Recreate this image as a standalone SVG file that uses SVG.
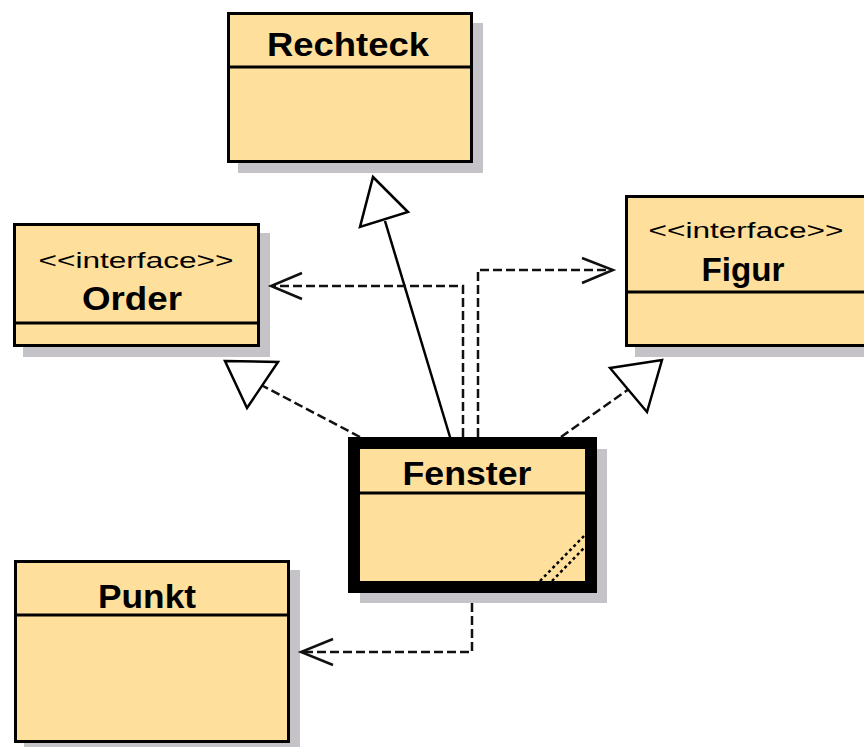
<svg xmlns="http://www.w3.org/2000/svg" width="864" height="747" viewBox="0 0 864 747">
  <style>
    .shadow { fill: #c5c3c8; }
    .box { fill: #fedf9c; stroke: #000; stroke-width: 3; }
    .divider { stroke: #000; stroke-width: 3; }
    .name { font-family: "Liberation Sans", Arial, sans-serif; font-weight: bold; font-size: 34px; fill: #000; text-anchor: middle; }
    .stereo { font-family: "Liberation Sans", Arial, sans-serif; font-size: 22px; fill: #000; text-anchor: middle; }
    .solid { fill: none; stroke: #000; stroke-width: 2.5; }
    .dashed { fill: none; stroke: #111; stroke-width: 2.5; stroke-dasharray: 9 4; }
    .head { fill: #fff; stroke: #000; stroke-width: 2.5; stroke-linejoin: miter; }
    .open { fill: none; stroke: #111; stroke-width: 2.5; }
    .hatch { fill: none; stroke: #000; stroke-width: 2.5; stroke-dasharray: 3 3; }
  </style>

  <rect width="864" height="747" fill="#fff"/>

  <!-- Rechteck -->
  <g id="rechteck">
    <rect class="shadow" x="238" y="23" width="245" height="150"/>
    <rect class="box" x="228.5" y="13.5" width="243" height="148"/>
    <line class="divider" x1="228" y1="67" x2="472" y2="67"/>
    <text class="name" x="348" y="56" textLength="162" lengthAdjust="spacingAndGlyphs">Rechteck</text>
  </g>

  <!-- Order -->
  <g id="order">
    <rect class="shadow" x="23" y="233" width="247" height="124"/>
    <rect class="box" x="14.5" y="224.5" width="244" height="121"/>
    <line class="divider" x1="14" y1="323" x2="259" y2="323"/>
    <text class="stereo" x="136" y="268" textLength="195" lengthAdjust="spacingAndGlyphs">&lt;&lt;interface&gt;&gt;</text>
    <text class="name" x="132" y="310" textLength="100" lengthAdjust="spacingAndGlyphs">Order</text>
  </g>

  <!-- Figur -->
  <g id="figur">
    <rect class="shadow" x="635" y="205" width="250" height="152"/>
    <rect class="box" x="626.5" y="196.5" width="250" height="149"/>
    <line class="divider" x1="626" y1="292" x2="878" y2="292"/>
    <text class="stereo" x="746" y="238" textLength="195" lengthAdjust="spacingAndGlyphs">&lt;&lt;interface&gt;&gt;</text>
    <text class="name" x="743" y="281" textLength="83" lengthAdjust="spacingAndGlyphs">Figur</text>
  </g>

  <!-- Fenster (active class, heavy border) -->
  <g id="fenster">
    <rect class="shadow" x="360" y="449" width="247" height="154"/>
    <rect x="354" y="443" width="237" height="144" fill="#fedf9c" stroke="#000" stroke-width="12"/>
    <line class="divider" x1="360" y1="493" x2="585" y2="493"/>
    <text class="name" x="467" y="485" textLength="129" lengthAdjust="spacingAndGlyphs">Fenster</text>
    <line class="hatch" x1="540" y1="581" x2="584" y2="536"/>
    <line class="hatch" x1="552" y1="581" x2="584" y2="548"/>
  </g>

  <!-- Punkt -->
  <g id="punkt">
    <rect class="shadow" x="24" y="570" width="276" height="183"/>
    <rect class="box" x="15.5" y="561.5" width="273" height="180"/>
    <line class="divider" x1="15" y1="615" x2="289" y2="615"/>
    <text class="name" x="147" y="608" textLength="98" lengthAdjust="spacingAndGlyphs">Punkt</text>
  </g>

  <!-- Connectors -->
  <g id="connectors">
    <!-- Fenster extends Rechteck -->
    <line class="solid" x1="450" y1="437" x2="385" y2="221"/>
    <polygon class="head" points="373,177 408,212 360,227"/>

    <!-- Fenster implements Order -->
    <line class="dashed" x1="360" y1="437" x2="263" y2="386"/>
    <polygon class="head" points="225,361 278,362 247,408"/>

    <!-- Fenster implements Figur -->
    <line class="dashed" x1="561" y1="437" x2="629" y2="389"/>
    <polygon class="head" points="610,368 662,360 647,412"/>

    <!-- Fenster uses Order -->
    <polyline class="dashed" points="463,437 463,286 272,286"/>
    <polyline class="open" points="302,273 271,286 302,299"/>

    <!-- Fenster uses Figur -->
    <polyline class="dashed" points="478,437 478,270 612,270"/>
    <polyline class="open" points="582,258 613,270 582,283"/>

    <!-- Fenster uses Punkt -->
    <polyline class="dashed" points="472,603 472,652 302,652"/>
    <polyline class="open" points="333,639 301,652 333,665"/>
  </g>
</svg>
